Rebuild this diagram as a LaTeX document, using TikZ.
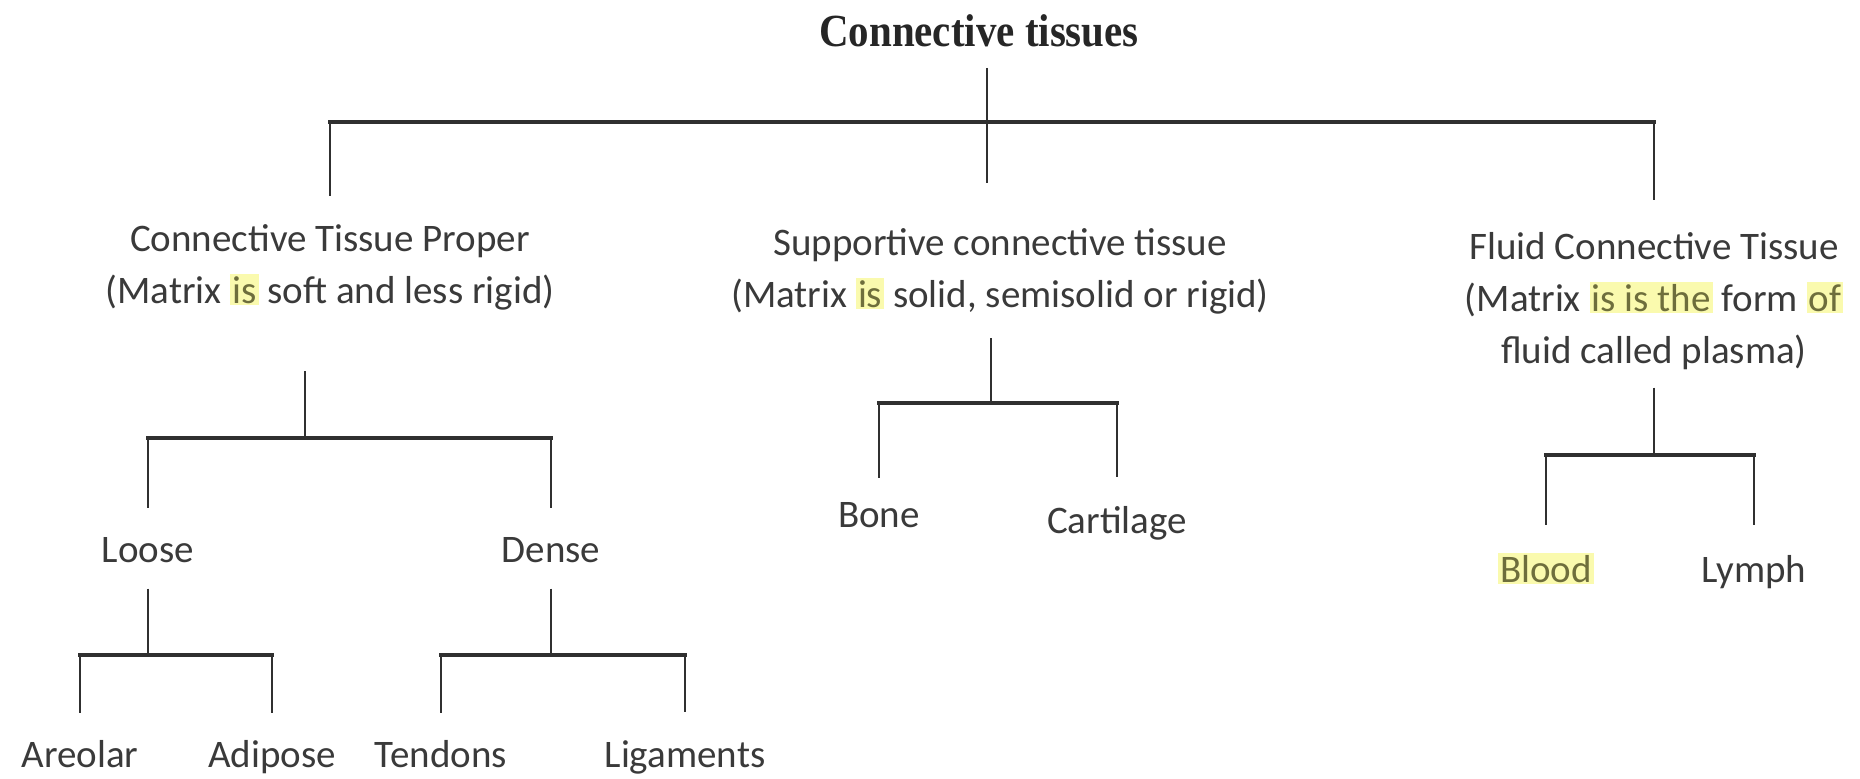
\documentclass[tikz,border=0pt]{standalone}
\usepackage{fontspec}
\setmainfont{Carlito}
\newfontfamily\titlefont[FakeStretch=0.89]{Liberation Serif}
\usetikzlibrary{positioning,calc}
\definecolor{Ink}{HTML}{3A3A3A}
\definecolor{Line}{HTML}{303030}
\definecolor{HlYellow}{HTML}{FAFAAE}
\definecolor{HlInk}{HTML}{6E6E3C}
\newcommand{\hlt}[1]{{\setlength{\fboxsep}{1pt}\colorbox{HlYellow}{\color{HlInk}#1}}}

\begin{document}
\begin{tikzpicture}[x=0.5pt,y=-0.5pt,
    lbl/.style={inner sep=0pt,anchor=base,text=Ink,font=\fontsize{19.5}{26}\selectfont,align=center},
    stem/.style={draw=Line,line width=1.3pt},
    bar/.style={draw=Line,line width=1.9pt,line cap=rect}]
    \useasboundingbox (0,0) rectangle (1860,778);
    % title and first level (base = last line)
    \node[inner sep=0pt,anchor=base,text=black!85,font=\titlefont\fontsize{23}{26}\selectfont\bfseries] (title) at (979,46) {Connective tissues};
    \node[lbl] (proper) at (330,303) {Connective Tissue Proper\\(Matrix \hlt{is} soft and less rigid)};
    \node[lbl] (support) at (1000,307) {Supportive connective tissue\\(Matrix \hlt{is} solid, semisolid or rigid)};
    \node[lbl] (fluid) at (1654,363) {Fluid Connective Tissue\\(Matrix \hlt{is is the} form \hlt{of}\\fluid called plasma)};
    % junctions
    \coordinate (jTop) at (987,122);
    \coordinate (jProper) at (305,438);
    \coordinate (jLoose) at (148,655);
    \coordinate (jDense) at (551,655);
    \coordinate (jSupport) at (991,403);
    \coordinate (jFluid) at (1654,455);
    % lower levels
    \node[lbl] (loose) at (148,562) {Loose};
    \node[lbl] (dense) at (551,562) {Dense};
    \node[lbl] (areolar) at (80,767) {Areolar};
    \node[lbl] (adipose) at (272,767) {Adipose};
    \node[lbl] (tendons) at (441,767) {Tendons};
    \node[lbl] (ligaments) at (685,767) {Ligaments};
    \node[lbl] (bone) at (879,527) {Bone};
    \node[lbl] (cartilage) at (1117,533) {Cartilage};
    \node[lbl] (blood) at (1546,582) {\hlt{Blood}};
    \node[lbl] (lymph) at (1754,582) {Lymph};
    % tree lines
    \draw[stem,shorten <=10.5pt] (title.south -| jTop) -- (jTop);
    \draw[bar] (jTop -| proper) -- (jTop -| fluid);
    \draw[stem,shorten >=14pt] (jTop -| proper) -- (proper.north);
    \draw[stem,shorten >=22.5pt] (jTop) -- (jTop |- support.north);
    \draw[stem,shorten >=16pt] (jTop -| fluid) -- (fluid.north);
    \draw[stem,shorten <=30.5pt] (proper.south -| jProper) -- (jProper);
    \draw[bar] (jProper -| loose) -- (jProper -| dense);
    \draw[stem,shorten >=14.5pt] (jProper -| loose) -- (loose.north);
    \draw[stem,shorten >=14.5pt] (jProper -| dense) -- (dense.north);
    \draw[stem,shorten <=13pt] (loose.south -| jLoose) -- (jLoose);
    \draw[stem,shorten <=13pt] (dense.south -| jDense) -- (jDense);
    \draw[bar] (jLoose -| areolar) -- (jLoose -| adipose);
    \draw[stem,shorten >=13.5pt] (jLoose -| areolar) -- (areolar.north);
    \draw[stem,shorten >=13.5pt] (jLoose -| adipose) -- (adipose.north);
    \draw[bar] (jDense -| tendons) -- (jDense -| ligaments);
    \draw[stem,shorten >=13.5pt] (jDense -| tendons) -- (tendons.north);
    \draw[stem,shorten >=14pt] (jDense -| ligaments) -- (ligaments.north);
    \draw[stem,shorten <=12pt] (support.south -| jSupport) -- (jSupport);
    \draw[bar] (jSupport -| bone) -- (jSupport -| cartilage);
    \draw[stem,shorten >=12pt] (jSupport -| bone) -- (bone.north);
    \draw[stem,shorten >=14.5pt] (jSupport -| cartilage) -- (cartilage.north);
    \draw[stem,shorten <=9pt] (fluid.south -| jFluid) -- (jFluid);
    \draw[bar] (jFluid -| blood) -- (jFluid -| lymph);
    \draw[stem,shorten >=14pt] (jFluid -| blood) -- (blood.north);
    \draw[stem,shorten >=15pt] (jFluid -| lymph) -- (lymph.north);
\end{tikzpicture}
\end{document}
